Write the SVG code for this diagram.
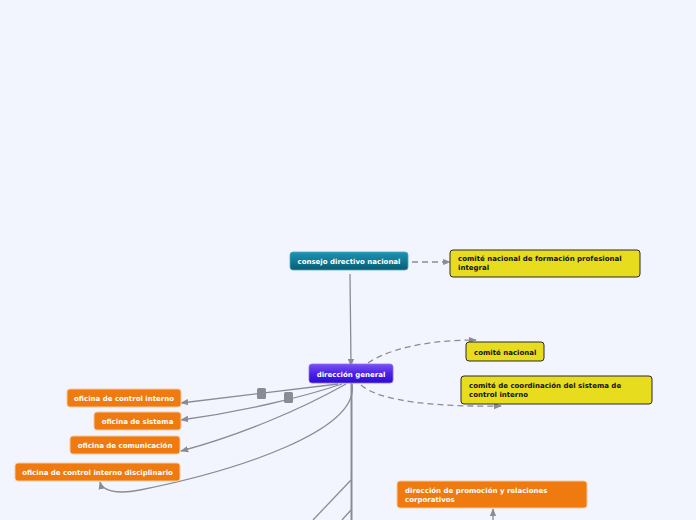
<svg xmlns="http://www.w3.org/2000/svg" width="696" height="520" viewBox="0 0 696 520">
<defs>
<linearGradient id="gTeal" x1="0" y1="0" x2="0" y2="1"><stop offset="0" stop-color="#1e93b3"/><stop offset="0.5" stop-color="#117a96"/><stop offset="1" stop-color="#0a5a70"/></linearGradient>
<linearGradient id="gPurp" x1="0" y1="0" x2="0" y2="1"><stop offset="0" stop-color="#7a52f2"/><stop offset="0.5" stop-color="#4a22e6"/><stop offset="1" stop-color="#2a0cd0"/></linearGradient>
<marker id="arr" viewBox="0 0 10 10" refX="9" refY="5" markerWidth="5" markerHeight="5" orient="auto-start-reverse" markerUnits="userSpaceOnUse"><path d="M0,0 L10,5 L0,10 z" fill="#8a8c94"/></marker>
<marker id="arrB" viewBox="0 0 10 10" refX="9" refY="5" markerWidth="8" markerHeight="8" orient="auto" markerUnits="userSpaceOnUse"><path d="M0,1 L10,5 L0,9 z" fill="#8a8c94"/></marker>
</defs>
<style>
.t{font-family:"DejaVu Sans",Verdana,sans-serif;font-weight:bold;font-size:7px}
.w{fill:#ffffff}
.k{fill:#111111}
.or{fill:#ee7a10;stroke:#f7c9a0;stroke-width:1}
.ye{fill:#e8dc1e;stroke:#2a2a2a;stroke-width:1}
.ln{fill:none;stroke:#8a8c94;stroke-width:1.3}
.ds{fill:none;stroke:#8a8c94;stroke-width:1.3;stroke-dasharray:6,4}
</style>
<rect width="696" height="520" fill="#f2f5fd"/>
<g id="connectors">
<path class="ln" d="M350,274 L351,366" marker-end="url(#arrB)"/>
<path class="ds" d="M412,262 L450,262" marker-end="url(#arrB)"/>
<path class="ds" d="M368,363 C395,345 440,340 476,340" marker-end="url(#arrB)"/>
<path class="ds" d="M361,385 C380,402 440,407 501,406" marker-end="url(#arrB)"/>
<path class="ln" d="M338,384 L181,403" marker-end="url(#arrB)"/>
<path class="ln" d="M342,384 C300,398 240,412 181,420" marker-end="url(#arrB)"/>
<path class="ln" d="M346,384 C300,410 240,435 181,451" marker-end="url(#arrB)"/>
<path class="ln" d="M352,384 C360,430 240,470 140,490 C115,495 102,490 100,482" marker-end="url(#arrB)"/>
<path d="M351.5,383 L351.5,520" stroke="#8a8c94" stroke-width="2" fill="none"/>
<path class="ln" d="M351,480 L313,520"/>
<path class="ln" d="M351,510 L342,520"/>
<path class="ln" d="M493,520 L493,509" marker-end="url(#arrB)"/>
<rect x="257" y="388" width="9" height="11" rx="1.5" fill="#8a8c94"/>
<rect x="284" y="392" width="9" height="11" rx="1.5" fill="#8a8c94"/>
</g>
<g id="n-consejo">
<rect x="290" y="252" width="118" height="18" rx="3" fill="url(#gTeal)" stroke="#4aa8c4" stroke-width="0.8"/>
<text class="t w" x="349" y="264" text-anchor="middle">consejo directivo nacional</text>
</g>
<g id="n-comite-formacion">
<rect x="450" y="250" width="190" height="27" rx="3" class="ye"/>
<text class="t k" x="458" y="261">comité nacional de formación profesional</text>
<text class="t k" x="458" y="270">integral</text>
</g>
<g id="n-direccion">
<rect x="309" y="364" width="84" height="19" rx="3" fill="url(#gPurp)" stroke="#8a6cf5" stroke-width="0.8"/>
<text class="t w" x="351" y="376.5" text-anchor="middle">dirección general</text>
</g>
<g id="n-comite-nacional">
<rect x="466" y="342" width="78" height="19" rx="3" class="ye"/>
<text class="t k" x="474" y="354.5">comité nacional</text>
</g>
<g id="n-comite-coord">
<rect x="461" y="376" width="191" height="28" rx="3" class="ye"/>
<text class="t k" x="469" y="388">comité de coordinación del sistema de</text>
<text class="t k" x="469" y="397">control interno</text>
</g>
<g id="n-of-control">
<rect x="67" y="389" width="114" height="18" rx="3" class="or"/>
<text class="t w" x="124" y="400.5" text-anchor="middle">oficina de control interno</text>
</g>
<g id="n-of-sistema">
<rect x="94" y="412" width="87" height="18" rx="3" class="or"/>
<text class="t w" x="137.5" y="423.5" text-anchor="middle">oficina de sistema</text>
</g>
<g id="n-of-comunicacion">
<rect x="70" y="436" width="110" height="18" rx="3" class="or"/>
<text class="t w" x="125" y="447.5" text-anchor="middle">oficina de comunicación</text>
</g>
<g id="n-of-disciplinario">
<rect x="15" y="463" width="165" height="18" rx="3" class="or"/>
<text class="t w" x="97.5" y="474.5" text-anchor="middle">oficina de control interno disciplinario</text>
</g>
<g id="n-dir-promocion">
<rect x="397" y="481" width="190" height="27" rx="3" class="or"/>
<text class="t w" x="405" y="493">dirección de promoción y relaciones</text>
<text class="t w" x="405" y="502">corporativos</text>
</g>
</svg>
